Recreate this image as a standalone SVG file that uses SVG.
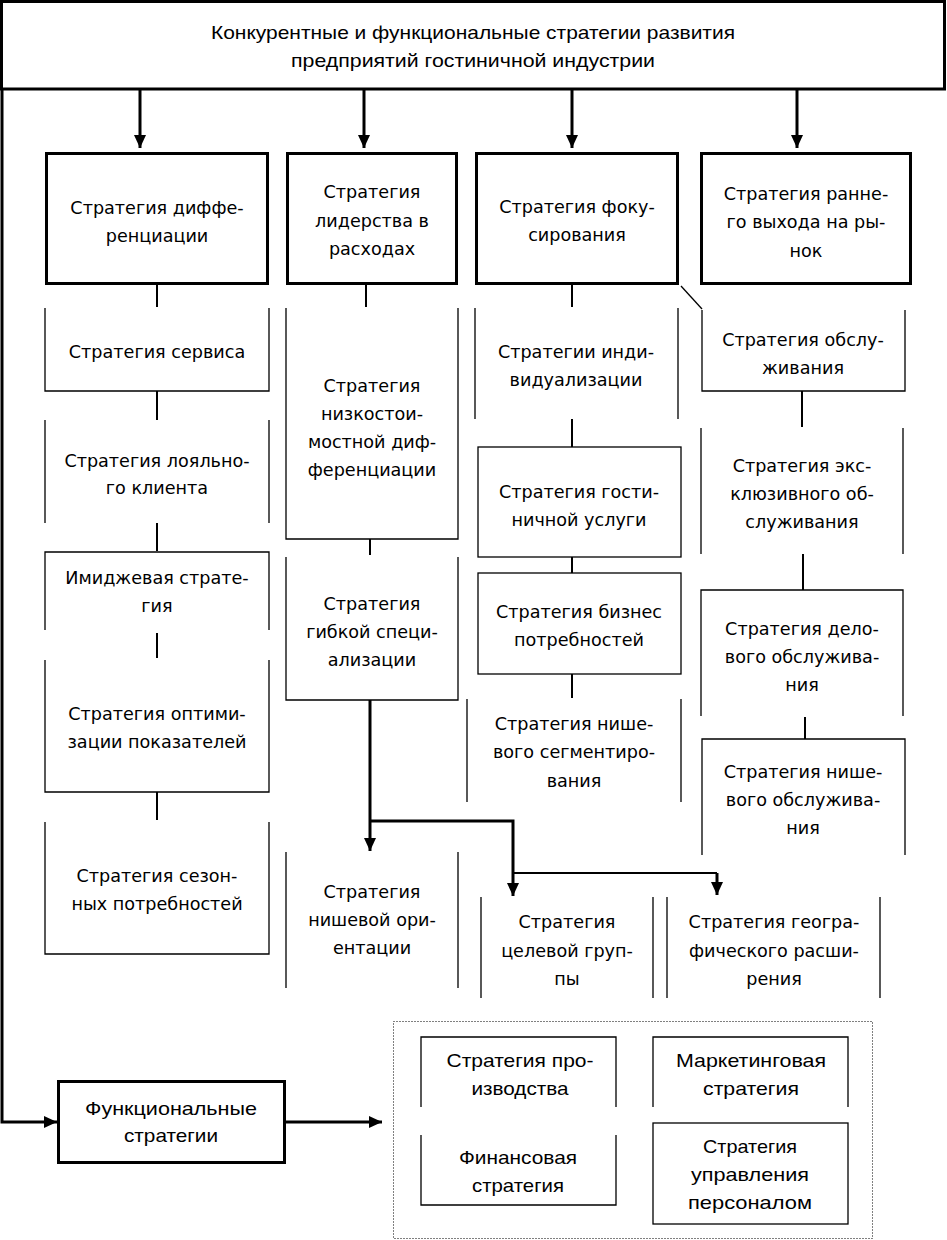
<svg xmlns="http://www.w3.org/2000/svg" width="947" height="1240" viewBox="0 0 947 1240">
<style>
.bg{fill:#fff}
.thick{fill:none;stroke:#000;stroke-width:3}
.thin{fill:none;stroke:#000;stroke-width:1.3}
.conn{fill:none;stroke:#000;stroke-width:2}
.carrow{fill:none;stroke:#000;stroke-width:3}
.dot{fill:none;stroke:#000;stroke-width:1;stroke-dasharray:1 2}
.t{font-family:"DejaVu Sans","Liberation Sans",sans-serif;font-size:17.6px;text-anchor:middle;fill:#000}
.c{font-family:"Liberation Sans",Arial,sans-serif;font-size:18.5px;text-anchor:middle;fill:#000}
</style>
<defs>
<marker id="ah" markerUnits="userSpaceOnUse" markerWidth="14" markerHeight="14" refX="13" refY="7" orient="auto">
<path d="M0,1 L13,7 L0,13 Z" fill="#000"/>
</marker>
</defs>
<rect class="bg" x="0" y="0" width="947" height="1240"/>

<g id="n_top">
<rect class="thick" x="1.5" y="1.5" width="943" height="87.5"/>
<text class="c" x="473" y="39" textLength="524" lengthAdjust="spacingAndGlyphs">Конкурентные и функциональные стратегии развития</text>
<text class="c" x="473" y="67" textLength="364" lengthAdjust="spacingAndGlyphs">предприятий гостиничной индустрии</text>
</g>

<g id="connectors">
<path class="carrow" d="M140,89 V148" marker-end="url(#ah)"/>
<path class="carrow" d="M364,89 V148" marker-end="url(#ah)"/>
<path class="carrow" d="M572,89 V148" marker-end="url(#ah)"/>
<path class="carrow" d="M797,89 V148" marker-end="url(#ah)"/>
<path class="carrow" d="M2,89 V1122 H57" marker-end="url(#ah)"/>
<path class="carrow" d="M285,1122 H382" marker-end="url(#ah)"/>
<path class="conn" d="M157,285 V307 M157,391 V420 M157,523 V551 M157,633 V658 M157,792 V820"/>
<path class="conn" d="M366,285 V307 M370,539 V555"/>
<path class="conn" d="M572,285 V307 M572,419 V447 M572,557 V573 M572,674 V698"/>
<path class="thin" d="M681,286 L702,309"/>
<path class="conn" d="M802,391 V427 M803,554 V590 M805,717 V739"/>
<path class="carrow" d="M370,700 V851" marker-end="url(#ah)"/>
<path class="carrow" d="M370,821 H513 V896" marker-end="url(#ah)"/>
<path class="conn" d="M513,873 H717"/>
<path class="carrow" d="M717,873 V895" marker-end="url(#ah)"/>
</g>

<g id="n_diff">
<rect class="thick" x="46.5" y="153.5" width="221" height="130"/>
<text class="t" x="157" y="214">Стратегия диффе-</text>
<text class="t" x="157" y="242">ренциации</text>
</g>
<g id="n_lead">
<rect class="thick" x="287.5" y="153.5" width="169" height="130"/>
<text class="t" x="372" y="198">Стратегия</text>
<text class="t" x="372" y="227">лидерства в</text>
<text class="t" x="372" y="255">расходах</text>
</g>
<g id="n_focus">
<rect class="thick" x="476.5" y="153.5" width="201" height="130"/>
<text class="t" x="577" y="213">Стратегия фоку-</text>
<text class="t" x="577" y="241">сирования</text>
</g>
<g id="n_early">
<rect class="thick" x="701.5" y="153.5" width="209" height="130"/>
<text class="t" x="806" y="200">Стратегия ранне-</text>
<text class="t" x="806" y="228">го выхода на ры-</text>
<text class="t" x="806" y="257">нок</text>
</g>

<g id="n_service">
<path class="thin" d="M45,308 V391 H269 V308"/>
<text class="t" x="157" y="358">Стратегия сервиса</text>
</g>
<g id="n_loyal">
<path class="thin" d="M45,420 V523 M269,420 V523"/>
<text class="t" x="157" y="467">Стратегия лояльно-</text>
<text class="t" x="157" y="494">го клиента</text>
</g>
<g id="n_image">
<path class="thin" d="M45,630 V552 H269 V630"/>
<text class="t" x="157" y="584">Имиджевая страте-</text>
<text class="t" x="157" y="612">гия</text>
</g>
<g id="n_optim">
<path class="thin" d="M45,660 V792 H269 V660"/>
<text class="t" x="157" y="720">Стратегия оптими-</text>
<text class="t" x="157" y="748">зации показателей</text>
</g>
<g id="n_season">
<path class="thin" d="M45,822 V954 H269 V822"/>
<text class="t" x="157" y="882">Стратегия сезон-</text>
<text class="t" x="157" y="910">ных потребностей</text>
</g>

<g id="n_lowcost">
<path class="thin" d="M286,308 V539 H458 V308"/>
<text class="t" x="372" y="392">Стратегия</text>
<text class="t" x="372" y="420">низкостои-</text>
<text class="t" x="372" y="448">мостной диф-</text>
<text class="t" x="372" y="476">ференциации</text>
</g>
<g id="n_flex">
<path class="thin" d="M286,557 V700 H458 V557"/>
<text class="t" x="372" y="610">Стратегия</text>
<text class="t" x="372" y="638">гибкой специ-</text>
<text class="t" x="372" y="666">ализации</text>
</g>
<g id="n_nicheor">
<path class="thin" d="M286,852 V988 M458,852 V988"/>
<text class="t" x="372" y="898">Стратегия</text>
<text class="t" x="372" y="926">нишевой ори-</text>
<text class="t" x="372" y="954">ентации</text>
</g>

<g id="n_indiv">
<path class="thin" d="M475,308 V419 M678,308 V419"/>
<text class="t" x="576" y="358">Стратегии инди-</text>
<text class="t" x="576" y="386">видуализации</text>
</g>
<g id="n_hotel">
<rect class="thin" x="478" y="447" width="203" height="110"/>
<text class="t" x="579" y="498">Стратегия гости-</text>
<text class="t" x="579" y="526">ничной услуги</text>
</g>
<g id="n_business">
<rect class="thin" x="478" y="573" width="203" height="101"/>
<text class="t" x="579" y="618">Стратегия бизнес</text>
<text class="t" x="579" y="646">потребностей</text>
</g>
<g id="n_segment">
<path class="thin" d="M467,699 V802 M681,699 V802"/>
<text class="t" x="574" y="730">Стратегия нише-</text>
<text class="t" x="574" y="758">вого сегментиро-</text>
<text class="t" x="574" y="787">вания</text>
</g>

<g id="n_servicing">
<path class="thin" d="M702,310 V391 H905 V310"/>
<text class="t" x="803" y="346">Стратегия обслу-</text>
<text class="t" x="803" y="374">живания</text>
</g>
<g id="n_exclusive">
<path class="thin" d="M701,428 V554 M903,428 V554"/>
<text class="t" x="802" y="472">Стратегия экс-</text>
<text class="t" x="802" y="500">клюзивного об-</text>
<text class="t" x="802" y="528">служивания</text>
</g>
<g id="n_bizserv">
<path class="thin" d="M701,716 V590 H903 V716"/>
<text class="t" x="802" y="635">Стратегия дело-</text>
<text class="t" x="802" y="663">вого обслужива-</text>
<text class="t" x="802" y="691">ния</text>
</g>
<g id="n_nicheserv">
<path class="thin" d="M702,855 V739 H905 V855"/>
<text class="t" x="803" y="778">Стратегия нише-</text>
<text class="t" x="803" y="806">вого обслужива-</text>
<text class="t" x="803" y="834">ния</text>
</g>

<g id="n_target">
<path class="thin" d="M481,897 V998 M653,897 V998"/>
<text class="t" x="567" y="928">Стратегия</text>
<text class="t" x="567" y="957">целевой груп-</text>
<text class="t" x="567" y="985">пы</text>
</g>
<g id="n_geo">
<path class="thin" d="M667,897 V998 M880,897 V998"/>
<text class="t" x="774" y="928">Стратегия геогра-</text>
<text class="t" x="774" y="957">фического расши-</text>
<text class="t" x="774" y="985">рения</text>
</g>

<g id="n_func">
<rect class="thick" x="58.5" y="1081.5" width="226" height="81"/>
<text class="c" x="171" y="1115" textLength="172" lengthAdjust="spacingAndGlyphs">Функциональные</text>
<text class="c" x="171" y="1142" textLength="94" lengthAdjust="spacingAndGlyphs">стратегии</text>
</g>

<g id="g_functional">
<rect class="dot" x="393.5" y="1021.5" width="479" height="217"/>
</g>
<g id="n_prod">
<path class="thin" d="M421,1107 V1037 H616 V1107"/>
<text class="c" x="520" y="1067" textLength="147" lengthAdjust="spacingAndGlyphs">Стратегия про-</text>
<text class="c" x="520" y="1095" textLength="97" lengthAdjust="spacingAndGlyphs">изводства</text>
</g>
<g id="n_market">
<path class="thin" d="M653,1107 V1037 H848 V1107"/>
<text class="c" x="751" y="1067" textLength="150" lengthAdjust="spacingAndGlyphs">Маркетинговая</text>
<text class="c" x="751" y="1095" textLength="96" lengthAdjust="spacingAndGlyphs">стратегия</text>
</g>
<g id="n_fin">
<path class="thin" d="M421,1135 V1205 H616 V1135"/>
<text class="c" x="518" y="1164" textLength="118" lengthAdjust="spacingAndGlyphs">Финансовая</text>
<text class="c" x="518" y="1192" textLength="92" lengthAdjust="spacingAndGlyphs">стратегия</text>
</g>
<g id="n_hr">
<rect class="thin" x="653" y="1123" width="195" height="101"/>
<text class="c" x="750" y="1153" textLength="94" lengthAdjust="spacingAndGlyphs">Стратегия</text>
<text class="c" x="750" y="1181" textLength="118" lengthAdjust="spacingAndGlyphs">управления</text>
<text class="c" x="750" y="1209" textLength="124" lengthAdjust="spacingAndGlyphs">персоналом</text>
</g>
</svg>
